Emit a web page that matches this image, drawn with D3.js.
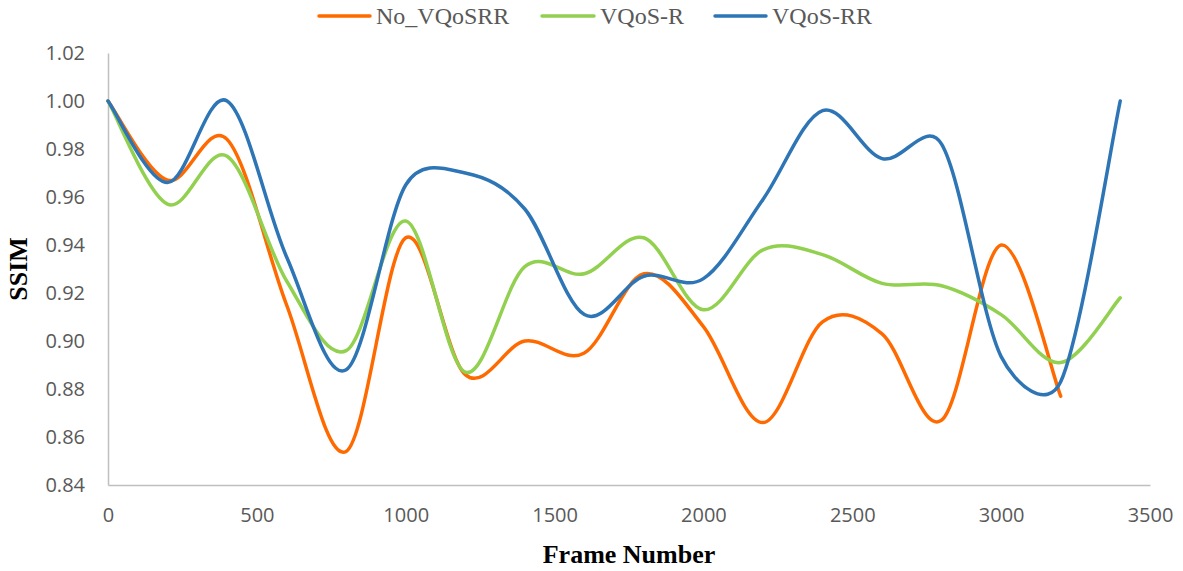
<!DOCTYPE html>
<html>
<head>
<meta charset="utf-8">
<script src="https://cdn.jsdelivr.net/npm/d3@7"></script>
<style>
  html, body { margin: 0; padding: 0; background: #fff; }
  svg { display: block; }
</style>
</head>
<body>
<svg id="chart" width="1183" height="571"></svg>
<script>
// Frame numbers sampled every 200 frames
const frames = [0, 200, 400, 600, 800, 1000, 1200, 1400, 1600, 1800, 2000, 2200, 2400, 2600, 2800, 3000, 3200, 3400];

// SSIM per scheme
const noVQoSRR = [1.000, 0.967, 0.984, 0.915, 0.854, 0.943, 0.886, 0.900, 0.895, 0.928, 0.906, 0.866, 0.908, 0.903, 0.867, 0.940, 0.877];
const vqosR    = [1.000, 0.957, 0.977, 0.925, 0.896, 0.950, 0.887, 0.931, 0.928, 0.943, 0.913, 0.938, 0.936, 0.924, 0.923, 0.911, 0.891, 0.918];
const vqosRR   = [1.000, 0.966, 1.000, 0.935, 0.888, 0.965, 0.970, 0.955, 0.911, 0.927, 0.926, 0.959, 0.996, 0.976, 0.982, 0.8935, 0.883, 1.000];

const seriesNames = ["No_VQoSRR", "VQoS-R", "VQoS-RR"];
const seriesColors = ["#FF6A00", "#92D050", "#2E75B6"];

const xTicks = [0, 500, 1000, 1500, 2000, 2500, 3000, 3500];
const yTicks = [0.84, 0.86, 0.88, 0.90, 0.92, 0.94, 0.96, 0.98, 1.00, 1.02];

const svg = d3.select("#chart");
const margin = { left: 108, right: 33, top: 53, bottom: 86 };
const W = 1183, H = 571;

const x = d3.scaleLinear().domain([0, 3500]).range([margin.left, W - margin.right]);
const y = d3.scaleLinear().domain([0.84, 1.02]).range([H - margin.bottom, margin.top]);

const tickFont = "'Open Sans', 'Noto Sans', sans-serif";
const serif = "'Liberation Serif', 'Times New Roman', serif";

// Spreadsheet-style smoothed line: cubic Bezier segments whose control
// points follow the neighbouring points (1/6 tension), but are limited
// to half the segment length so steep neighbours don't overshoot.
function SmoothCurve(context) { this._context = context; }
SmoothCurve.prototype = {
  areaStart() { this._line = 0; },
  areaEnd() { this._line = NaN; },
  lineStart() { this._pts = []; },
  point(px, py) { this._pts.push([+px, +py]); },
  lineEnd() {
    const p = this._pts, n = p.length, ctx = this._context;
    if (!n) return;
    ctx.moveTo(p[0][0], p[0][1]);
    const dist = (a, b) => Math.hypot(b[0] - a[0], b[1] - a[1]);
    for (let i = 0; i < n - 1; i++) {
      const p0 = p[Math.max(0, i - 1)], p1 = p[i], p2 = p[i + 1], p3 = p[Math.min(n - 1, i + 2)];
      const d12 = dist(p1, p2), d02 = dist(p0, p2), d13 = dist(p1, p3);
      const f1 = d02 > 0 ? Math.min(1 / 6, d12 / (2 * d02)) : 0;
      const f2 = d13 > 0 ? Math.min(1 / 6, d12 / (2 * d13)) : 0;
      ctx.bezierCurveTo(
        p1[0] + f1 * (p2[0] - p0[0]), p1[1] + f1 * (p2[1] - p0[1]),
        p2[0] - f2 * (p3[0] - p1[0]), p2[1] - f2 * (p3[1] - p1[1]),
        p2[0], p2[1]);
    }
  }
};
const curveSmooth = ctx => new SmoothCurve(ctx);

// Y axis
const yAxis = svg.append("g")
  .attr("transform", `translate(${margin.left},0)`)
  .call(d3.axisLeft(y).tickValues(yTicks).tickSize(0).tickPadding(23).tickFormat(d3.format(".2f")));
yAxis.select(".domain").attr("stroke", "#BFBFBF").attr("stroke-width", 1.5);
yAxis.selectAll("text").attr("font-family", tickFont).attr("font-size", 20).attr("fill", "#595959");

// X axis
const xAxis = svg.append("g")
  .attr("transform", `translate(0,${y(0.84)})`)
  .call(d3.axisBottom(x).tickValues(xTicks).tickSize(0).tickPadding(23).tickFormat(d3.format("d")));
xAxis.select(".domain").attr("stroke", "#BFBFBF").attr("stroke-width", 1.5);
xAxis.selectAll("text").attr("font-family", tickFont).attr("font-size", 20).attr("fill", "#595959");

// Series lines
const line = d3.line()
  .x((d, i) => x(frames[i]))
  .y(d => y(d))
  .curve(curveSmooth);

[noVQoSRR, vqosR, vqosRR].forEach((vals, k) => {
  svg.append("path")
    .datum(vals)
    .attr("d", line)
    .attr("fill", "none")
    .attr("stroke", seriesColors[k])
    .attr("stroke-width", 3.5)
    .attr("stroke-linecap", "round")
    .attr("stroke-linejoin", "round");
});

// Axis titles
svg.append("text")
  .attr("x", (x(0) + x(3500)) / 2)
  .attr("y", 563)
  .attr("text-anchor", "middle")
  .attr("font-family", serif)
  .attr("font-weight", "bold")
  .attr("font-size", 26)
  .attr("fill", "#000")
  .text("Frame Number");

svg.append("text")
  .attr("transform", `translate(27,${(y(0.84) + y(1.02)) / 2}) rotate(-90)`)
  .attr("text-anchor", "middle")
  .attr("font-family", serif)
  .attr("font-weight", "bold")
  .attr("font-size", 26)
  .attr("fill", "#000")
  .text("SSIM");

// Legend
const legendItems = [
  { x0: 319, x1: 370, tx: 376 },
  { x0: 542, x1: 594, tx: 600 },
  { x0: 715, x1: 766, tx: 772 }
];
const legend = svg.append("g");
legendItems.forEach((it, k) => {
  legend.append("line")
    .attr("x1", it.x0).attr("x2", it.x1)
    .attr("y1", 16).attr("y2", 16)
    .attr("stroke", seriesColors[k])
    .attr("stroke-width", 3.5)
    .attr("stroke-linecap", "round");
  legend.append("text")
    .attr("x", it.tx)
    .attr("y", 24)
    .attr("font-family", serif)
    .attr("font-size", 24)
    .attr("fill", "#595959")
    .text(seriesNames[k]);
});
</script>
</body>
</html>
